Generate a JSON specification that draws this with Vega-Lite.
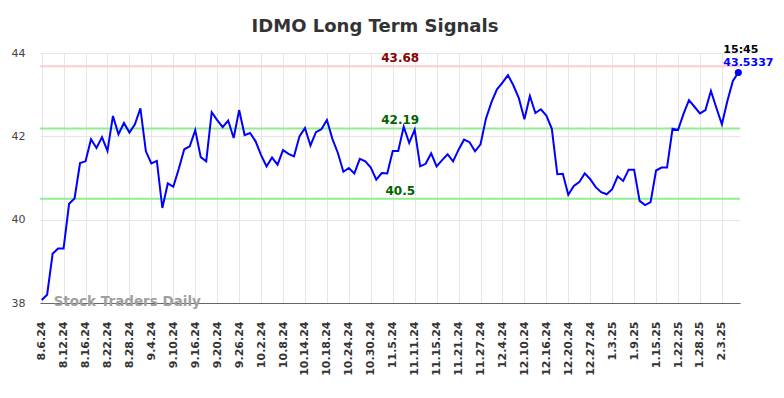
{
  "$schema": "https://vega.github.io/schema/vega-lite/v6.json",
  "width": 700,
  "height": 250,
  "autosize": "none",
  "padding": {"left": 40, "top": 53, "right": 44, "bottom": 95},
  "title": {"text": "IDMO Long Term Signals", "fontSize": 18, "font": "DejaVu Sans", "fontWeight": "bold", "color": "#333333", "anchor": "middle", "dx": -15, "offset": 8},
  "config": {
    "view": {"stroke": null},
    "font": "DejaVu Sans",
    "axis": {"gridColor": "#e6e6e6", "gridWidth": 1, "ticks": false}
  },
  "resolve": {"scale": {"color": "independent"}},
  "datasets": {
    "prices": [
      {"d":"8.6.24","v":38.07},{"d":"8.7.24","v":38.20},{"d":"8.8.24","v":39.18},{"d":"8.9.24","v":39.31},{"d":"8.12.24","v":39.31},
      {"d":"8.13.24","v":40.38},{"d":"8.14.24","v":40.51},{"d":"8.15.24","v":41.36},{"d":"8.16.24","v":41.40},{"d":"8.19.24","v":41.93},
      {"d":"8.20.24","v":41.72},{"d":"8.21.24","v":41.98},{"d":"8.22.24","v":41.65},{"d":"8.23.24","v":42.49},{"d":"8.26.24","v":42.05},
      {"d":"8.27.24","v":42.32},{"d":"8.28.24","v":42.09},{"d":"8.29.24","v":42.29},{"d":"8.30.24","v":42.67},{"d":"9.3.24","v":41.64},
      {"d":"9.4.24","v":41.35},{"d":"9.5.24","v":41.41},{"d":"9.6.24","v":40.28},{"d":"9.9.24","v":40.87},{"d":"9.10.24","v":40.79},
      {"d":"9.11.24","v":41.22},{"d":"9.12.24","v":41.69},{"d":"9.13.24","v":41.76},{"d":"9.16.24","v":42.15},{"d":"9.17.24","v":41.50},
      {"d":"9.18.24","v":41.40},{"d":"9.19.24","v":42.58},{"d":"9.20.24","v":42.39},{"d":"9.23.24","v":42.22},{"d":"9.24.24","v":42.38},
      {"d":"9.25.24","v":41.96},{"d":"9.26.24","v":42.63},{"d":"9.27.24","v":42.03},{"d":"9.30.24","v":42.08},{"d":"10.1.24","v":41.88},
      {"d":"10.2.24","v":41.55},{"d":"10.3.24","v":41.28},{"d":"10.4.24","v":41.49},{"d":"10.7.24","v":41.32},{"d":"10.8.24","v":41.67},
      {"d":"10.9.24","v":41.58},{"d":"10.10.24","v":41.52},{"d":"10.11.24","v":42.00},{"d":"10.14.24","v":42.20},{"d":"10.15.24","v":41.78},
      {"d":"10.16.24","v":42.10},{"d":"10.17.24","v":42.17},{"d":"10.18.24","v":42.39},{"d":"10.21.24","v":41.94},{"d":"10.22.24","v":41.60},
      {"d":"10.23.24","v":41.15},{"d":"10.24.24","v":41.24},{"d":"10.25.24","v":41.11},{"d":"10.28.24","v":41.46},{"d":"10.29.24","v":41.40},
      {"d":"10.30.24","v":41.25},{"d":"10.31.24","v":40.96},{"d":"11.1.24","v":41.12},{"d":"11.4.24","v":41.11},{"d":"11.5.24","v":41.65},
      {"d":"11.6.24","v":41.65},{"d":"11.7.24","v":42.23},{"d":"11.8.24","v":41.84},{"d":"11.11.24","v":42.16},{"d":"11.12.24","v":41.28},
      {"d":"11.13.24","v":41.34},{"d":"11.14.24","v":41.59},{"d":"11.15.24","v":41.28},{"d":"11.18.24","v":41.43},{"d":"11.19.24","v":41.57},
      {"d":"11.20.24","v":41.40},{"d":"11.21.24","v":41.68},{"d":"11.22.24","v":41.92},{"d":"11.25.24","v":41.86},{"d":"11.26.24","v":41.64},
      {"d":"11.27.24","v":41.81},{"d":"11.29.24","v":42.43},{"d":"12.2.24","v":42.82},{"d":"12.3.24","v":43.13},{"d":"12.4.24","v":43.29},
      {"d":"12.5.24","v":43.47},{"d":"12.6.24","v":43.22},{"d":"12.9.24","v":42.91},{"d":"12.10.24","v":42.41},{"d":"12.11.24","v":42.97},
      {"d":"12.12.24","v":42.56},{"d":"12.13.24","v":42.65},{"d":"12.16.24","v":42.50},{"d":"12.17.24","v":42.18},{"d":"12.18.24","v":41.09},
      {"d":"12.19.24","v":41.10},{"d":"12.20.24","v":40.60},{"d":"12.23.24","v":40.81},{"d":"12.24.24","v":40.90},{"d":"12.26.24","v":41.11},
      {"d":"12.27.24","v":40.97},{"d":"12.30.24","v":40.78},{"d":"12.31.24","v":40.66},{"d":"1.2.25","v":40.61},{"d":"1.3.25","v":40.73},
      {"d":"1.6.25","v":41.04},{"d":"1.7.25","v":40.93},{"d":"1.8.25","v":41.20},{"d":"1.9.25","v":41.20},{"d":"1.10.25","v":40.45},
      {"d":"1.13.25","v":40.35},{"d":"1.14.25","v":40.42},{"d":"1.15.25","v":41.18},{"d":"1.16.25","v":41.25},{"d":"1.17.25","v":41.25},
      {"d":"1.21.25","v":42.18},{"d":"1.22.25","v":42.15},{"d":"1.23.25","v":42.54},{"d":"1.24.25","v":42.87},{"d":"1.27.25","v":42.71},
      {"d":"1.28.25","v":42.55},{"d":"1.29.25","v":42.63},{"d":"1.30.25","v":43.09},{"d":"1.31.25","v":42.68},{"d":"2.3.25","v":42.29},
      {"d":"2.4.25","v":42.85},{"d":"2.5.25","v":43.33},{"d":"2.6.25","v":43.5337}
    ],
    "levels": [
      {"v": 43.68, "kind": "resistance", "label": "43.68", "ld": "11.6.24"},
      {"v": 42.19, "kind": "mid", "label": "42.19", "ld": "11.6.24"},
      {"v": 40.5, "kind": "support", "label": "40.5", "ld": "11.6.24"}
    ],
    "last": [{"d": "2.6.25", "v": 43.5337, "time": "15:45", "price": "43.5337"}],
    "mark": [{"d": "8.6.24", "v": 38, "text": "Stock Traders Daily"}]
  },
  "layer": [
    {
      "data": {"name": "levels"},
      "mark": {"type": "rule", "strokeWidth": 2},
      "encoding": {
        "y": {"field": "v", "type": "quantitative"},
        "color": {"field": "kind", "type": "nominal", "scale": {"domain": ["resistance", "mid", "support"], "range": ["#ffcccc", "#90ee90", "#90ee90"]}, "legend": null}
      }
    },
    {
      "data": {"name": "prices"},
      "mark": {"type": "line", "color": "#0000ff", "strokeWidth": 2},
      "encoding": {
        "x": {
          "field": "d", "type": "ordinal", "title": null,
          "scale": {"type": "point", "padding": 0.3, "domain": ["8.6.24","8.7.24","8.8.24","8.9.24","8.12.24","8.13.24","8.14.24","8.15.24","8.16.24","8.19.24","8.20.24","8.21.24","8.22.24","8.23.24","8.26.24","8.27.24","8.28.24","8.29.24","8.30.24","9.3.24","9.4.24","9.5.24","9.6.24","9.9.24","9.10.24","9.11.24","9.12.24","9.13.24","9.16.24","9.17.24","9.18.24","9.19.24","9.20.24","9.23.24","9.24.24","9.25.24","9.26.24","9.27.24","9.30.24","10.1.24","10.2.24","10.3.24","10.4.24","10.7.24","10.8.24","10.9.24","10.10.24","10.11.24","10.14.24","10.15.24","10.16.24","10.17.24","10.18.24","10.21.24","10.22.24","10.23.24","10.24.24","10.25.24","10.28.24","10.29.24","10.30.24","10.31.24","11.1.24","11.4.24","11.5.24","11.6.24","11.7.24","11.8.24","11.11.24","11.12.24","11.13.24","11.14.24","11.15.24","11.18.24","11.19.24","11.20.24","11.21.24","11.22.24","11.25.24","11.26.24","11.27.24","11.29.24","12.2.24","12.3.24","12.4.24","12.5.24","12.6.24","12.9.24","12.10.24","12.11.24","12.12.24","12.13.24","12.16.24","12.17.24","12.18.24","12.19.24","12.20.24","12.23.24","12.24.24","12.26.24","12.27.24","12.30.24","12.31.24","1.2.25","1.3.25","1.6.25","1.7.25","1.8.25","1.9.25","1.10.25","1.13.25","1.14.25","1.15.25","1.16.25","1.17.25","1.21.25","1.22.25","1.23.25","1.24.25","1.27.25","1.28.25","1.29.25","1.30.25","1.31.25","2.3.25","2.4.25","2.5.25","2.6.25"]},
          "axis": {
            "values": ["8.6.24","8.12.24","8.16.24","8.22.24","8.28.24","9.4.24","9.10.24","9.16.24","9.20.24","9.26.24","10.2.24","10.8.24","10.14.24","10.18.24","10.24.24","10.30.24","11.5.24","11.11.24","11.15.24","11.21.24","11.27.24","12.4.24","12.10.24","12.16.24","12.20.24","12.27.24","1.3.25","1.9.25","1.15.25","1.22.25","1.28.25","2.3.25"],
            "labelAngle": -90, "labelFontSize": 11, "labelFontWeight": "bold", "labelColor": "#333333", "labelPadding": 18,
            "domain": true, "domainColor": "#666666", "domainWidth": 1, "grid": true
          }
        },
        "y": {
          "field": "v", "type": "quantitative", "title": null,
          "scale": {"domain": [38, 44], "nice": false, "zero": false},
          "axis": {"values": [38, 40, 42, 44], "labelFontSize": 11, "labelColor": "#444444", "labelPadding": 15, "domain": false, "grid": true}
        }
      }
    },
    {
      "data": {"name": "levels"},
      "mark": {"type": "text", "fontSize": 12, "fontWeight": "bold", "align": "center", "baseline": "alphabetic", "dy": -4, "dx": 2},
      "encoding": {
        "x": {"field": "ld", "type": "ordinal"},
        "y": {"field": "v", "type": "quantitative"},
        "text": {"field": "label"},
        "color": {"field": "kind", "type": "nominal", "scale": {"domain": ["resistance", "mid", "support"], "range": ["#8b0000", "#006400", "#006400"]}, "legend": null}
      }
    },
    {
      "data": {"name": "last"},
      "mark": {"type": "point", "filled": true, "size": 50, "color": "#0000ff", "opacity": 1},
      "encoding": {
        "x": {"field": "d", "type": "ordinal"},
        "y": {"field": "v", "type": "quantitative"}
      }
    },
    {
      "data": {"name": "last"},
      "mark": {"type": "text", "fontSize": 11, "fontWeight": "bold", "align": "left", "baseline": "alphabetic", "dx": -15, "dy": -19, "color": "#000000"},
      "encoding": {
        "x": {"field": "d", "type": "ordinal"},
        "y": {"field": "v", "type": "quantitative"},
        "text": {"field": "time"}
      }
    },
    {
      "data": {"name": "last"},
      "mark": {"type": "text", "fontSize": 11, "fontWeight": "bold", "align": "left", "baseline": "alphabetic", "dx": -15, "dy": -6, "color": "#0000ff"},
      "encoding": {
        "x": {"field": "d", "type": "ordinal"},
        "y": {"field": "v", "type": "quantitative"},
        "text": {"field": "price"}
      }
    },
    {
      "data": {"name": "mark"},
      "mark": {"type": "text", "fontSize": 13.5, "fontWeight": "bold", "align": "left", "baseline": "alphabetic", "dx": 12, "dy": 3, "color": "#a0a0a0"},
      "encoding": {
        "x": {"field": "d", "type": "ordinal"},
        "y": {"field": "v", "type": "quantitative"},
        "text": {"field": "text"}
      }
    }
  ]
}
